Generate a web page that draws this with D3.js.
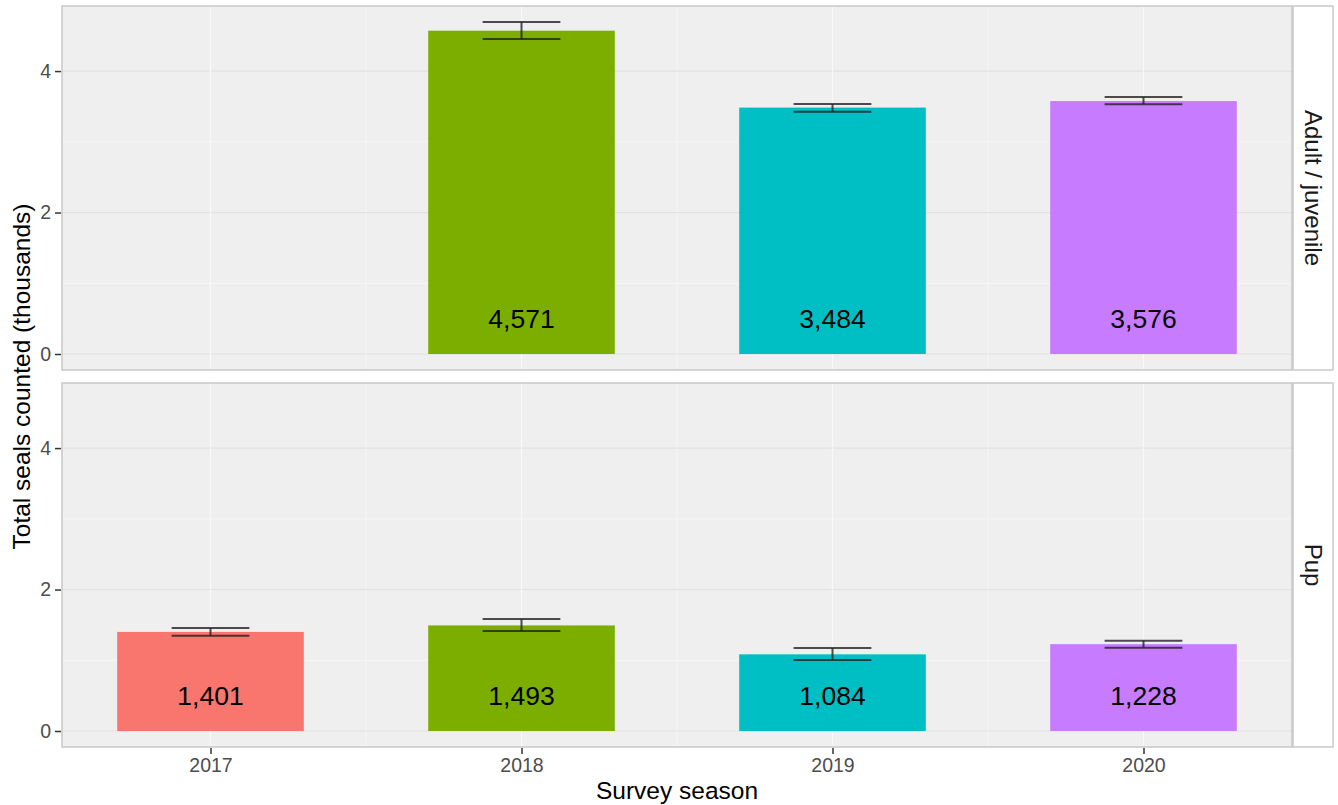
<!DOCTYPE html>
<html>
<head>
<meta charset="utf-8">
<script src="https://cdn.jsdelivr.net/npm/d3@7"></script>
<style>
  body { margin: 0; background: #ffffff; }
  svg { display: block; font-family: "Liberation Sans", Arial, sans-serif; }
</style>
</head>
<body>
<div id="chart"></div>
<script>
// data (counts, error bar limits)
var seasons = ["2017", "2018", "2019", "2020"];
var panelNames = ["Adult / juvenile", "Pup"];
var adultCounts = [null, 4571, 3484, 3576];
var adultLow = [null, 4452, 3425, 3532];
var adultHigh = [null, 4693, 3534, 3632];
var pupCounts = [1401, 1493, 1084, 1228];
var pupLow = [1347, 1413, 1004, 1178];
var pupHigh = [1456, 1583, 1173, 1277];
var yTicks = [0, 2, 4];
var fillColours = ["#F8766D", "#7CAE00", "#00BFC4", "#C77CFF"];

var width = 1338, height = 805;
var panelLeft = 62, panelRight = 1292, stripW = 40;
var panelBoxes = [{t: 6, b: 370}, {t: 383, b: 747}];

var svg = d3.select("#chart").append("svg")
    .attr("width", width)
    .attr("height", height);

var x = d3.scalePoint()
    .domain(seasons)
    .range([panelLeft, panelRight])
    .padding(0.4775);
var step = x.step();

var fmt = d3.format(",");

var panelData = [
  {counts: adultCounts, low: adultLow, high: adultHigh},
  {counts: pupCounts, low: pupLow, high: pupHigh}
];

panelData.forEach(function(pd, i){
  var box = panelBoxes[i];
  var y = d3.scaleLinear().domain([-0.226, 4.92]).range([box.b, box.t]);

  var g = svg.append("g");

  // panel background
  g.append("rect")
      .attr("x", panelLeft).attr("y", box.t)
      .attr("width", panelRight - panelLeft).attr("height", box.b - box.t)
      .style("fill", "#efefef");

  // minor grid
  [1, 3].forEach(function(v){
    g.append("line")
        .attr("x1", panelLeft).attr("x2", panelRight)
        .attr("y1", y(v)).attr("y2", y(v))
        .style("stroke", "#f6f6f6").style("stroke-width", 1);
  });
  for (var k = 0; k < seasons.length - 1; k++) {
    var mx = (x(seasons[k]) + x(seasons[k + 1])) / 2;
    g.append("line")
        .attr("x1", mx).attr("x2", mx)
        .attr("y1", box.t).attr("y2", box.b)
        .style("stroke", "#f6f6f6").style("stroke-width", 1);
  }
  // major grid
  yTicks.forEach(function(v){
    g.append("line")
        .attr("x1", panelLeft).attr("x2", panelRight)
        .attr("y1", y(v)).attr("y2", y(v))
        .style("stroke", "#e2e2e2").style("stroke-width", 1.2);
  });
  seasons.forEach(function(s){
    g.append("line")
        .attr("x1", x(s)).attr("x2", x(s))
        .attr("y1", box.t).attr("y2", box.b)
        .style("stroke", "#f8f8f8").style("stroke-width", 1.2);
  });

  // bars
  seasons.forEach(function(s, j){
    var v = pd.counts[j];
    if (v === null) return;
    var bw = step * 0.6;
    g.append("rect")
        .attr("x", x(s) - bw / 2)
        .attr("y", y(v / 1000))
        .attr("width", bw)
        .attr("height", y(0) - y(v / 1000))
        .style("fill", fillColours[j]);

    // error bar
    var ew = step * 0.25;
    var eb = g.append("g").style("stroke", "#222").style("stroke-opacity", 0.8).style("stroke-width", 2);
    eb.append("line")
        .attr("x1", x(s) - ew / 2).attr("x2", x(s) + ew / 2)
        .attr("y1", y(pd.high[j] / 1000)).attr("y2", y(pd.high[j] / 1000));
    eb.append("line")
        .attr("x1", x(s) - ew / 2).attr("x2", x(s) + ew / 2)
        .attr("y1", y(pd.low[j] / 1000)).attr("y2", y(pd.low[j] / 1000));
    eb.append("line")
        .attr("x1", x(s)).attr("x2", x(s))
        .attr("y1", y(pd.high[j] / 1000)).attr("y2", y(pd.low[j] / 1000));

    // value label
    g.append("text")
        .attr("x", x(s))
        .attr("y", y(0.5))
        .attr("dy", "0.35em")
        .attr("text-anchor", "middle")
        .style("font-size", "26.5px")
        .style("fill", "#000")
        .text(fmt(v));
  });

  // panel border
  g.append("rect")
      .attr("x", panelLeft).attr("y", box.t)
      .attr("width", panelRight - panelLeft).attr("height", box.b - box.t)
      .style("fill", "none").style("stroke", "#c8c8c8").style("stroke-width", 1.5);

  // strip
  g.append("rect")
      .attr("x", panelRight + 1).attr("y", box.t)
      .attr("width", stripW).attr("height", box.b - box.t)
      .style("fill", "#ffffff").style("stroke", "#c8c8c8").style("stroke-width", 1.5);
  var sx = panelRight + 1 + stripW / 2, sy = (box.t + box.b) / 2;
  g.append("text")
      .attr("transform", "translate(" + sx + "," + sy + ") rotate(90)")
      .attr("text-anchor", "middle")
      .attr("dy", "0.35em")
      .style("font-size", "24px")
      .style("fill", "#1a1a1a")
      .text(panelNames[i]);

  // y axis
  var yAxis = d3.axisLeft(y).tickValues(yTicks).tickFormat(d3.format("d")).tickSize(6).tickPadding(4);
  var ya = g.append("g")
      .attr("transform", "translate(" + (panelLeft - 1) + ",0)")
      .call(yAxis);
  ya.select(".domain").remove();
  ya.selectAll(".tick line").style("stroke", "#333").style("stroke-width", 1.5);
  ya.selectAll(".tick text").style("font-size", "19.5px").style("fill", "#4d4d4d")
      .style("font-family", "Liberation Sans, Arial, sans-serif");
});

// x axis at bottom panel
var xAxis = d3.axisBottom(x).tickSize(6).tickPadding(4);
var xa = svg.append("g")
    .attr("transform", "translate(0," + (panelBoxes[1].b + 1) + ")")
    .call(xAxis);
xa.select(".domain").remove();
xa.selectAll(".tick line").style("stroke", "#333").style("stroke-width", 1.5);
xa.selectAll(".tick text").style("font-size", "19.5px").style("fill", "#4d4d4d")
    .style("font-family", "Liberation Sans, Arial, sans-serif");

// axis titles
svg.append("text")
    .attr("x", (panelLeft + panelRight) / 2)
    .attr("y", 799)
    .attr("text-anchor", "middle")
    .style("font-size", "24.5px")
    .style("fill", "#000")
    .text("Survey season");

svg.append("text")
    .attr("transform", "translate(30," + ((panelBoxes[0].t + panelBoxes[1].b) / 2) + ") rotate(-90)")
    .attr("text-anchor", "middle")
    .style("font-size", "24.5px")
    .style("fill", "#000")
    .text("Total seals counted (thousands)");
</script>
</body>
</html>
